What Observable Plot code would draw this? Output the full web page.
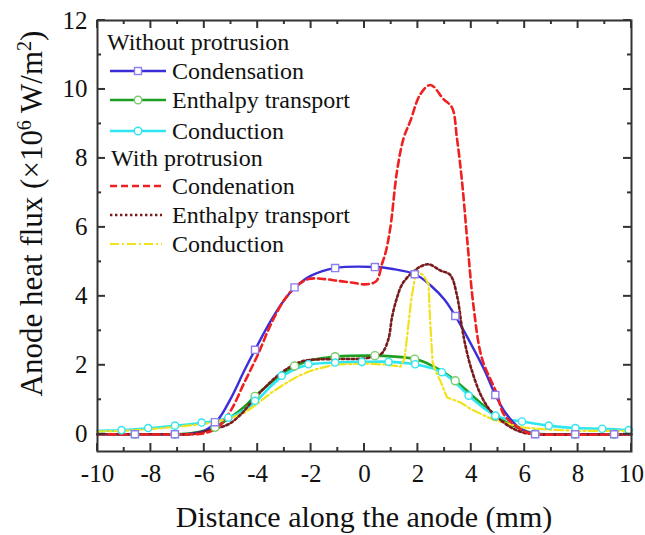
<!DOCTYPE html>
<html>
<head>
<meta charset="utf-8">
<script src="https://cdn.jsdelivr.net/npm/d3@7"></script>
<script src="https://cdn.jsdelivr.net/npm/@observablehq/plot@0.6"></script>
<style>
  html, body { margin: 0; padding: 0; background: #fff; }
  #chart { width: 645px; height: 535px; }
</style>
</head>
<body>
<div id="chart"></div>
<script>
// ---- Data ----
const xTicks = [-10, -8, -6, -4, -2, 0, 2, 4, 6, 8, 10];
const yTicks = [0, 2, 4, 6, 8, 10, 12];

// Without protrusion – Condensation (solid blue)
const condX = [-10, -8, -7, -6.5, -6, -5.5, -5, -4.5, -4.1, -3.5, -3, -2.6, -2, -1.1, 0.4, 1, 1.9, 2.5, 3, 3.4, 4, 4.5, 4.9, 5.3, 5.7, 6.1, 6.4, 8, 10];
const condY = [0, 0, 0, 0.02, 0.1, 0.41, 1.05, 1.85, 2.45, 3.3, 3.9, 4.26, 4.6, 4.82, 4.85, 4.8, 4.64, 4.3, 3.9, 3.43, 2.6, 1.85, 1.14, 0.6, 0.25, 0.06, 0, 0, 0];
const condMkX = [-8.6, -7.1, -5.6, -4.1, -2.62, -1.1, 0.39, 1.88, 3.4, 4.9, 6.39, 7.89, 9.35];
const condMkY = [0, 0, 0.35, 2.45, 4.26, 4.82, 4.85, 4.64, 3.43, 1.14, 0, 0, 0];

// Without protrusion – Enthalpy transport (solid green)
const enthX = [-10, -8, -7, -6.5, -6, -5.5, -5, -4.5, -4.1, -3.5, -3, -2.6, -2, -1.1, 0.4, 1, 1.9, 2.5, 3, 3.4, 4, 4.5, 5, 5.5, 6, 6.4, 7, 10];
const enthY = [0, 0, 0, 0.03, 0.1, 0.25, 0.5, 0.8, 1.1, 1.5, 1.8, 1.98, 2.15, 2.25, 2.28, 2.26, 2.18, 2.0, 1.78, 1.55, 1.15, 0.8, 0.5, 0.27, 0.1, 0.02, 0, 0];
const enthMkX = [-8.6, -7.1, -5.6, -4.1, -2.62, -1.1, 0.39, 1.88, 3.4, 4.9, 6.39, 7.89, 9.35];
const enthMkY = [0, 0, 0.2, 1.1, 1.98, 2.25, 2.28, 2.18, 1.55, 0.52, 0.01, 0, 0];

// Without protrusion – Conduction (solid cyan)
const condnX = [-10, -9, -8, -7, -6, -5.5, -5, -4.5, -4, -3.5, -3, -2.5, -2, -1, 0, 1, 1.9, 2.5, 2.9, 3.4, 3.9, 4.4, 4.9, 5.4, 5.9, 6.9, 7.9, 8.9, 10];
const condnY = [0.1, 0.12, 0.18, 0.25, 0.34, 0.4, 0.5, 0.7, 1.0, 1.4, 1.72, 1.92, 2.03, 2.08, 2.1, 2.1, 2.03, 1.92, 1.8, 1.5, 1.12, 0.8, 0.54, 0.43, 0.37, 0.25, 0.18, 0.16, 0.12];
const condnMkX = [-9.1, -8.1, -7.1, -6.1, -5.1, -4.1, -3.1, -2.1, -1.1, -0.1, 0.9, 1.9, 2.9, 3.9, 4.9, 5.9, 6.9, 7.9, 8.9, 9.9];
const condnMkY = [0.12, 0.18, 0.25, 0.34, 0.48, 0.97, 1.7, 2.03, 2.08, 2.1, 2.1, 2.03, 1.8, 1.12, 0.54, 0.37, 0.25, 0.18, 0.16, 0.12];

// With protrusion – Condenation (red dashed)
const pCondX = [-10, -6.5, -6, -5.5, -5, -4.5, -4, -3.5, -3, -2.6, -2.1, -1.5, -1, -0.5, 0.1, 0.45, 0.65, 0.8, 0.97, 1.22, 1.47, 1.72, 2.09, 2.47, 2.96, 3.28, 3.46, 3.65, 3.84, 4.09, 4.4, 4.96, 5.2, 5.6, 6.1, 6.5, 10];
const pCondY = [0, 0, 0.03, 0.2, 0.7, 1.5, 2.3, 3.2, 3.9, 4.26, 4.5, 4.5, 4.45, 4.4, 4.35, 4.45, 4.93, 5.3, 6.0, 7.64, 8.6, 9.09, 9.86, 10.13, 9.72, 9.47, 8.6, 7.35, 5.7, 3.67, 2.2, 1.17, 0.6, 0.28, 0.05, 0, 0];

// With protrusion – Enthalpy transport (dark red dotted)
const pEnthX = [-10, -7, -6.5, -6, -5.5, -5.07, -4.6, -4.2, -3.8, -3.33, -2.8, -2.27, -1.14, 0, 0.6, 0.72, 0.91, 1.03, 1.22, 1.41, 1.72, 2.09, 2.4, 2.84, 3.21, 3.47, 3.65, 3.8, 4.0, 4.35, 4.7, 5.2, 5.6, 6.0, 6.5, 10];
const pEnthY = [0, 0, 0, 0.08, 0.18, 0.3, 0.6, 0.97, 1.3, 1.65, 1.95, 2.13, 2.18, 2.2, 2.32, 2.42, 2.8, 3.39, 3.97, 4.35, 4.64, 4.86, 4.93, 4.75, 4.62, 4.0, 3.1, 2.5, 1.9, 1.15, 0.7, 0.35, 0.15, 0.04, 0, 0];

// With protrusion – Conduction (yellow dash-dot)
const pCondnX = [-10, -9, -8, -7, -6, -5.07, -4.5, -4.07, -3.5, -3.01, -2.5, -2.02, -1.14, 0.1, 0.8, 1.35, 1.5, 1.62, 1.75, 1.9, 2.0, 2.22, 2.4, 2.45, 2.55, 2.62, 2.72, 2.84, 3.09, 3.6, 4.0, 4.83, 5.9, 7, 8, 9, 10];
const pCondnY = [0.08, 0.1, 0.15, 0.22, 0.3, 0.45, 0.62, 0.85, 1.2, 1.45, 1.68, 1.84, 2.02, 2.05, 2.02, 1.96, 2.2, 3.0, 3.9, 4.6, 4.72, 4.6, 4.35, 3.4, 2.1, 1.92, 1.74, 1.55, 1.07, 0.92, 0.72, 0.42, 0.2, 0.13, 0.1, 0.1, 0.1];

// Legend entries
const groupTitles = ["Without protrusion", "With protrusion"];
const legendNames = ["Condensation", "Enthalpy transport", "Conduction", "Condenation", "Enthalpy transport", "Conduction"];

// ---- Styles ----
const C = {
  blue: "#3a2ed8", blueMk: "#8b7ff0",
  green: "#1f9f22", greenMk: "#78cc6c",
  cyan: "#2fe6f0", cyanMk: "#2fe6f0",
  red: "#ee2020", dred: "#7a1b1e", yellow: "#f2e21c"
};
const zip = (xs, ys) => xs.map((x, i) => ({x, y: ys[i]}));
const FONT = "'Liberation Serif', 'Times New Roman', serif";

const plot = Plot.plot({
  width: 645,
  height: 535,
  marginLeft: 97,
  marginRight: 14,
  marginTop: 20,
  marginBottom: 84,
  style: {fontFamily: FONT, background: "#fff", color: "#111"},
  x: {domain: [-10, 10]},
  y: {domain: [-0.5, 12]},
  marks: [
    Plot.axisX({ticks: xTicks, tickSize: 0, tickPadding: 13, fontSize: 25, tickFormat: d => String(d), label: null}),
    Plot.axisY({ticks: yTicks, tickSize: 0, tickPadding: 10, fontSize: 25, tickFormat: d => String(d), label: null}),
    Plot.line(zip(enthX, enthY), {x: "x", y: "y", stroke: C.green, strokeWidth: 2.6, curve: "catmull-rom"}),
    Plot.line(zip(condnX, condnY), {x: "x", y: "y", stroke: C.cyan, strokeWidth: 2.6, curve: "catmull-rom"}),
    Plot.line(zip(condX, condY), {x: "x", y: "y", stroke: C.blue, strokeWidth: 2.4, curve: "catmull-rom"}),
    Plot.line(zip(pCondnX, pCondnY), {x: "x", y: "y", stroke: C.yellow, strokeWidth: 2.2, strokeDasharray: "9,3,2,3"}),
    Plot.line(zip(pEnthX, pEnthY), {x: "x", y: "y", stroke: C.dred, strokeWidth: 2.6, strokeDasharray: "2.4,2.6", curve: "catmull-rom"}),
    Plot.line(zip(pCondX, pCondY), {x: "x", y: "y", stroke: C.red, strokeWidth: 2.6, strokeDasharray: "7,4", curve: "catmull-rom"}),
    Plot.dot(zip(enthMkX, enthMkY), {x: "x", y: "y", r: 4, stroke: C.greenMk, fill: "#fff", strokeWidth: 1.4}),
    Plot.dot(zip(condnMkX, condnMkY), {x: "x", y: "y", r: 3.6, stroke: C.cyanMk, fill: "#fff", strokeWidth: 1.4}),
    Plot.dot(zip(condMkX, condMkY), {x: "x", y: "y", r: 4, symbol: "square", stroke: C.blueMk, fill: "#fff", strokeWidth: 1.4}),
    Plot.frame({stroke: "#333", strokeWidth: 2})
  ]
});

document.getElementById("chart").appendChild(plot);

// ---- Inward ticks on all four sides (from the plot's scales) ----
const sx = plot.scale("x"), sy = plot.scale("y");
const svg = d3.select(plot);
const fTop = 20, fBottom = 535 - 84, fLeft = 97, fRight = 645 - 14;
const tg = svg.append("g").attr("stroke", "#333").attr("stroke-width", 2);
d3.range(-10, 11, 1).forEach(t => {
  const len = t % 2 === 0 ? 8 : 4, px = sx.apply(t);
  tg.append("line").attr("x1", px).attr("x2", px).attr("y1", fBottom).attr("y2", fBottom - len);
  tg.append("line").attr("x1", px).attr("x2", px).attr("y1", fTop).attr("y2", fTop + len);
});
d3.range(0, 13, 1).forEach(t => {
  const len = t % 2 === 0 ? 8 : 4, py = sy.apply(t);
  tg.append("line").attr("y1", py).attr("y2", py).attr("x1", fLeft).attr("x2", fLeft + len);
  tg.append("line").attr("y1", py).attr("y2", py).attr("x1", fRight).attr("x2", fRight - len);
});

// ---- Axis titles ----
svg.append("text").attr("x", (fLeft + fRight) / 2).attr("y", 527)
  .attr("text-anchor", "middle").attr("font-size", 30).attr("font-family", FONT).attr("fill", "#111")
  .text("Distance along the anode (mm)");
const yl = svg.append("text").attr("transform", "translate(42,213.5) rotate(-90)")
  .attr("text-anchor", "middle").attr("font-size", 31).attr("font-family", FONT).attr("fill", "#111");
yl.append("tspan").text("Anode heat flux (×10");
yl.append("tspan").attr("dy", -11).attr("font-size", 20).text("6");
yl.append("tspan").attr("dy", 11).text(" W/m");
yl.append("tspan").attr("dy", -11).attr("font-size", 20).text("2");
yl.append("tspan").attr("dy", 11).text(")");

// ---- Legend ----
const lg = svg.append("g").attr("font-family", FONT).attr("font-size", 24).attr("fill", "#111").attr("text-anchor", "start");
lg.append("text").attr("x", 107).attr("y", 50).text(groupTitles[0]);
lg.append("text").attr("x", 111).attr("y", 166).text(groupTitles[1]);
const rows = [
  {y: 71, stroke: C.blue, dash: null, w: 2.4, mk: "square", mkc: C.blueMk, x2: 166},
  {y: 100, stroke: C.green, dash: null, w: 2.6, mk: "circle", mkc: C.greenMk, x2: 166},
  {y: 131, stroke: C.cyan, dash: null, w: 2.6, mk: "circle", mkc: C.cyanMk, x2: 166},
  {y: 186, stroke: C.red, dash: "7,4", w: 2.4, mk: null, x2: 162},
  {y: 215, stroke: C.dred, dash: "2.4,2.6", w: 2.4, mk: null, x2: 162},
  {y: 244, stroke: C.yellow, dash: "9,3,2,3", w: 2.2, mk: null, x2: 162}
];
rows.forEach((r, i) => {
  lg.append("line").attr("x1", 110).attr("x2", r.x2).attr("y1", r.y).attr("y2", r.y)
    .attr("stroke", r.stroke).attr("stroke-width", r.w).attr("stroke-dasharray", r.dash);
  if (r.mk === "square") {
    lg.append("rect").attr("x", 138 - 3.5).attr("y", r.y - 3.5).attr("width", 7).attr("height", 7)
      .attr("fill", "#fff").attr("stroke", r.mkc).attr("stroke-width", 1.4);
  } else if (r.mk === "circle") {
    lg.append("circle").attr("cx", 138).attr("cy", r.y).attr("r", 3.8)
      .attr("fill", "#fff").attr("stroke", r.mkc).attr("stroke-width", 1.4);
  }
  lg.append("text").attr("x", 172).attr("y", r.y + 7.5).text(legendNames[i]);
});
</script>
</body>
</html>
